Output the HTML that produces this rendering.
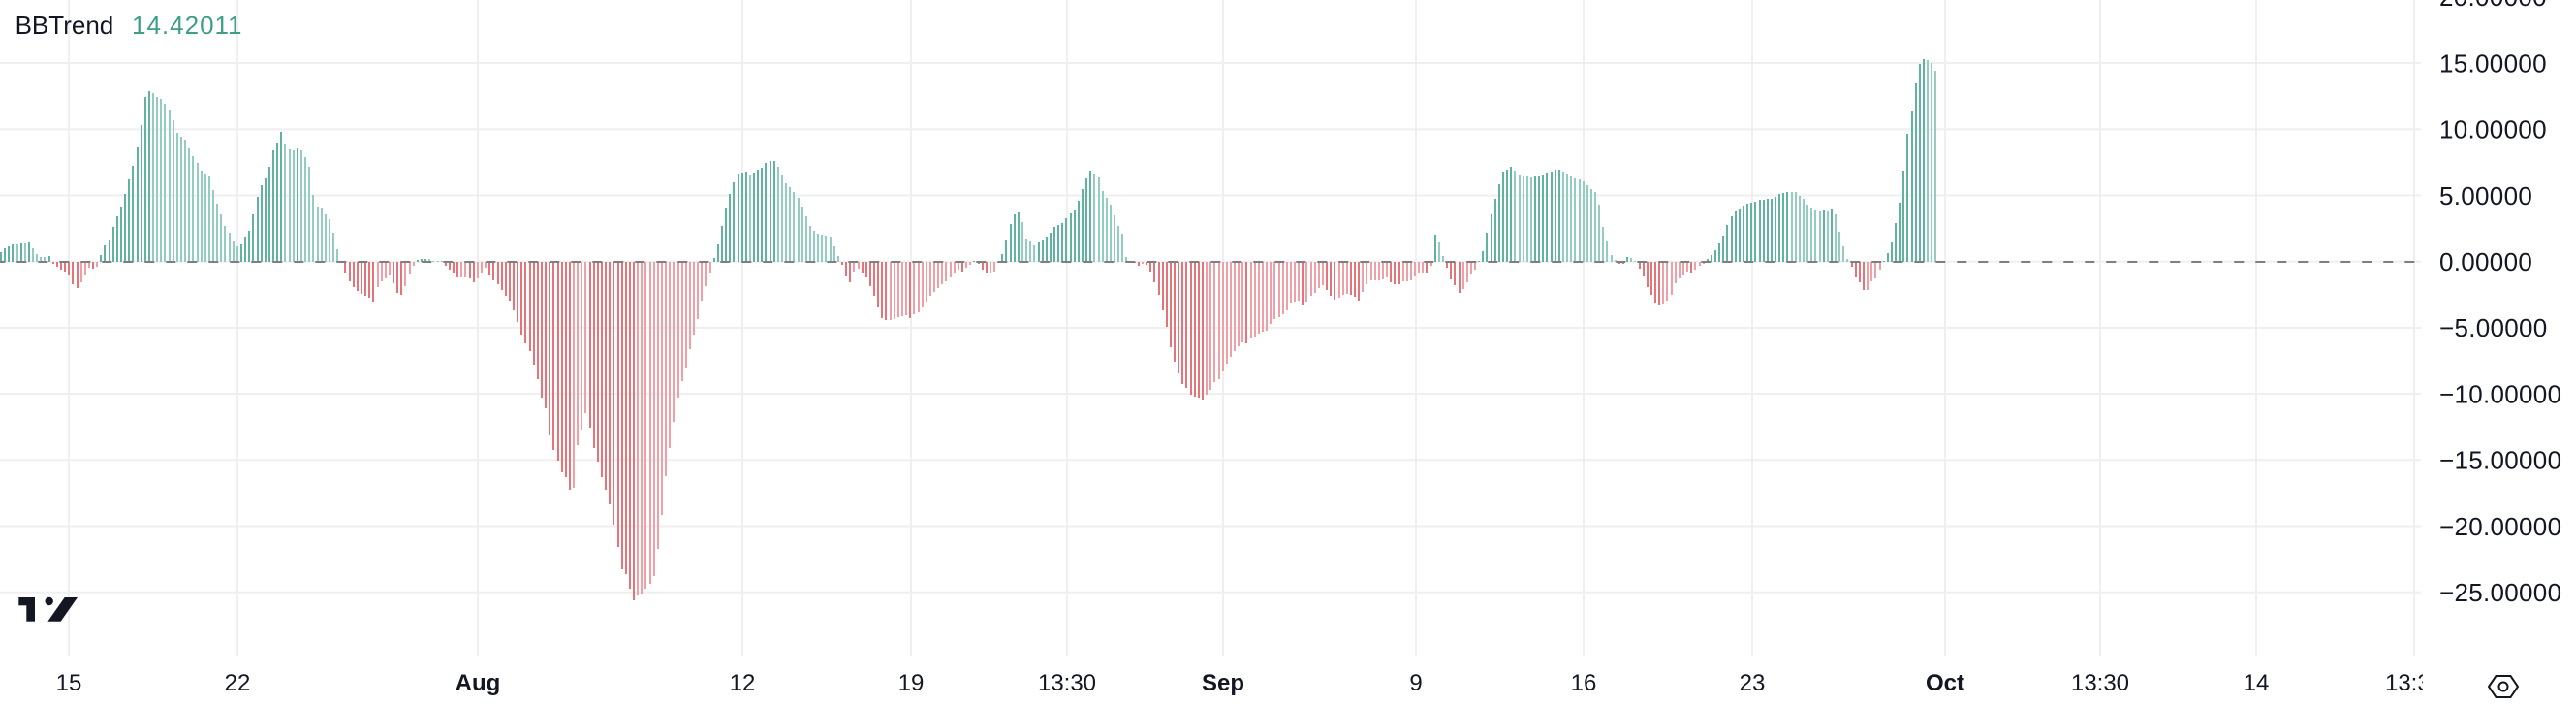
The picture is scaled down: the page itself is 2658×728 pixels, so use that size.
<!DOCTYPE html>
<html>
<head>
<meta charset="utf-8">
<style>
  html,body{margin:0;padding:0;background:#ffffff;}
  body{width:2658px;height:728px;overflow:hidden;position:relative;}
  svg{position:absolute;left:0;top:0;}
  text{font-family:"Liberation Sans",Arial,sans-serif;}
</style>
</head>
<body>
<svg width="2658" height="728" viewBox="0 0 2658 728" xmlns="http://www.w3.org/2000/svg">
  <defs>
    <clipPath id="plotclip"><rect x="0" y="0" width="2500" height="728"/></clipPath>
  </defs>
  <rect x="0" y="0" width="2658" height="728" fill="#ffffff"/>

  <!-- vertical gridlines -->
  <g fill="#efefef">
    <rect x="70" y="0" width="2" height="676"/>
    <rect x="244" y="0" width="2" height="676"/>
    <rect x="492" y="0" width="2" height="676"/>
    <rect x="765" y="0" width="2" height="676"/>
    <rect x="939" y="0" width="2" height="676"/>
    <rect x="1100" y="0" width="2" height="676"/>
    <rect x="1261" y="0" width="2" height="676"/>
    <rect x="1460" y="0" width="2" height="676"/>
    <rect x="1633" y="0" width="2" height="676"/>
    <rect x="1807" y="0" width="2" height="676"/>
    <rect x="2006" y="0" width="2" height="676"/>
    <rect x="2166" y="0" width="2" height="676"/>
    <rect x="2327" y="0" width="2" height="676"/>
    <rect x="2490" y="0" width="2" height="676"/>
  </g>
  <!-- horizontal gridlines -->
  <g fill="#efefef">
    <rect x="0" y="64" width="2498" height="2"/>
    <rect x="0" y="132.3" width="2498" height="2"/>
    <rect x="0" y="200.5" width="2498" height="2"/>
    <rect x="0" y="268.7" width="2498" height="2"/>
    <rect x="0" y="336.9" width="2498" height="2"/>
    <rect x="0" y="405.1" width="2498" height="2"/>
    <rect x="0" y="473.3" width="2498" height="2"/>
    <rect x="0" y="541.5" width="2498" height="2"/>
    <rect x="0" y="609.7" width="2498" height="2"/>
  </g>

  <!-- bars (filled by script) -->
  <g id="bars" shape-rendering="crispEdges"></g>

  <!-- zero dashed line -->
  <line x1="0" y1="270" x2="2492" y2="270" stroke="#7f7f7f" stroke-width="2" stroke-dasharray="10 12" stroke-dashoffset="4.7"/>

  <!-- legend -->
  <text x="15.6" y="35" font-size="26" fill="#131722">BBTrend</text>
  <text x="136" y="35" font-size="26" fill="#3f9e87" letter-spacing="1">14.42011</text>

  <!-- price axis labels -->
  <g font-size="26" fill="#131722" letter-spacing="0.3">
    <text x="2517" y="6.2">20.00000</text>
    <text x="2517" y="74.4">15.00000</text>
    <text x="2517" y="142.6">10.00000</text>
    <text x="2517" y="210.8">5.00000</text>
    <text x="2517" y="279">0.00000</text>
    <text x="2517" y="347.2">−5.00000</text>
    <text x="2517" y="415.4">−10.00000</text>
    <text x="2517" y="483.6">−15.00000</text>
    <text x="2517" y="551.8">−20.00000</text>
    <text x="2517" y="620">−25.00000</text>
  </g>

  <!-- time axis labels -->
  <g font-size="24" fill="#131722" text-anchor="middle" clip-path="url(#plotclip)">
    <text x="71" y="712">15</text>
    <text x="245" y="712">22</text>
    <text x="493" y="712" font-weight="bold">Aug</text>
    <text x="766" y="712">12</text>
    <text x="940" y="712">19</text>
    <text x="1101" y="712">13:30</text>
    <text x="1262" y="712" font-weight="bold">Sep</text>
    <text x="1461" y="712">9</text>
    <text x="1634" y="712">16</text>
    <text x="1808" y="712">23</text>
    <text x="2007" y="712" font-weight="bold">Oct</text>
    <text x="2167" y="712">13:30</text>
    <text x="2328" y="712">14</text>
    <text x="2491" y="712">13:30</text>
  </g>

  <!-- settings icon -->
  <g fill="none" stroke="#131722" stroke-width="2">
    <polygon points="2568,708 2575.5,697 2590.5,697 2598,708 2590.5,719 2575.5,719"/>
    <circle cx="2583" cy="708" r="4.5"/>
  </g>

  <!-- TradingView logo -->
  <g fill="#131722">
    <rect x="19.3" y="616" width="16.7" height="8.3"/>
    <rect x="27.3" y="616" width="8.7" height="24.7"/>
    <circle cx="50.7" cy="620" r="4.2"/>
    <polygon points="66.7,616 80,616 62.7,640.7 49.3,640.7"/>
  </g>
</svg>

<script>
(function(){
var d=[0.71,1.0,1.15,1.3,1.3,1.37,1.37,1.44,1.0,0.56,0.34,0.34,0.42,-0.17,-0.39,-0.61,-0.76,-1.05,-1.71,-2.0,
-1.56,-1.05,-0.46,-0.54,-0.39,0.49,1.22,1.66,2.61,3.42,4.15,5.11,6.21,7.23,8.63,10.31,12.44,12.88,12.73,12.44,
12.29,11.93,11.49,10.68,9.73,9.43,9.21,8.55,7.97,7.45,6.87,6.65,6.5,5.4,4.37,3.57,2.69,2.17,1.52,1.15,
1.3,1.88,2.32,3.57,4.89,5.77,6.28,7.16,8.41,8.99,9.8,8.92,8.48,8.41,8.55,8.41,7.89,7.16,5.03,4.15,
4.08,3.57,3.2,2.17,0.93,-0.05,-0.83,-1.49,-1.93,-2.22,-2.44,-2.59,-2.74,-3.03,-1.93,-1.49,-1.27,-1.05,-1.64,-2.37,
-2.52,-1.86,-0.98,-0.32,0.12,0.2,0.21,0.19,0.05,0.05,0.04,-0.32,-0.61,-0.9,-1.2,-1.19,-1.17,-1.25,-1.55,-1.26,
-0.82,-0.45,-1.04,-1.4,-1.7,-2.14,-2.57,-2.93,-3.67,-4.55,-5.5,-6.16,-6.74,-7.77,-8.87,-10.26,-11.07,-13.12,-14.22,-15.03,
-15.91,-16.28,-17.23,-17.08,-13.86,-12.68,-11.44,-12.54,-14.08,-15.1,-16.28,-17.23,-18.33,-19.87,-21.55,-23.24,-23.61,-24.71,-25.59,-25.22,
-25.15,-24.71,-24.34,-23.75,-21.7,-19.13,-16.2,-14.08,-12.1,-10.26,-9.02,-7.99,-6.6,-5.5,-4.33,-2.93,-1.83,-0.81,0.29,1.32,
2.71,4.11,5.13,6.01,6.67,6.74,6.82,6.6,6.74,6.96,7.11,7.48,7.62,7.63,7.18,6.6,5.94,5.65,5.28,4.84,
4.18,3.45,2.71,2.35,2.13,2.05,1.98,1.91,1.17,0.44,-0.22,-1.1,-1.54,-0.73,-0.51,-0.81,-1.17,-1.83,-2.57,-3.45,
-4.25,-4.4,-4.39,-4.33,-4.18,-4.11,-4.03,-4.25,-3.96,-3.81,-3.45,-3.0,-2.57,-2.27,-1.98,-1.69,-1.47,-1.17,-0.88,-0.59,
-0.73,-0.44,-0.22,0.05,-0.15,-0.59,-0.81,-0.8,-0.73,-0.07,0.56,1.66,2.83,3.57,3.71,2.98,1.74,1.59,1.22,1.44,
1.66,1.88,2.17,2.61,2.76,2.91,3.27,3.64,3.86,4.59,5.47,6.28,6.87,6.65,6.35,5.33,4.81,4.3,3.49,2.69,
2.1,0.34,0.02,-0.02,-0.29,-0.15,-0.22,-0.73,-1.54,-2.49,-3.67,-4.91,-6.45,-7.55,-8.43,-9.24,-9.53,-10.04,-10.19,-10.26,
-10.41,-10.04,-9.68,-9.09,-8.87,-8.28,-7.7,-7.18,-6.74,-6.38,-6.08,-6.16,-5.79,-5.65,-5.43,-5.28,-5.2,-4.69,-4.33,-4.18,
-3.96,-3.67,-3.08,-3.0,-2.93,-3.23,-3.0,-2.57,-2.35,-1.98,-1.76,-2.13,-2.57,-2.86,-2.71,-2.49,-2.42,-2.49,-2.64,-2.93,
-2.27,-1.69,-1.39,-1.39,-1.39,-1.32,-1.17,-1.54,-1.69,-1.7,-1.47,-1.47,-1.39,-1.1,-0.88,-0.81,-0.88,-0.29,2.03,1.44,
0.44,-0.44,-1.32,-1.76,-2.35,-2.05,-1.54,-0.95,-0.59,0.07,0.81,2.2,3.59,4.77,5.87,6.82,6.96,7.18,6.89,6.6,
6.45,6.44,6.38,6.52,6.53,6.6,6.74,6.82,6.96,6.97,6.82,6.67,6.45,6.3,6.23,6.09,5.79,5.5,5.28,4.33,
2.64,1.54,0.51,0.15,-0.15,-0.16,0.37,0.29,0.07,-0.51,-1.1,-1.91,-2.49,-3.08,-3.23,-3.15,-2.93,-2.49,-1.61,-1.25,
-1.03,-0.73,-0.81,-0.59,-0.29,-0.15,0.22,0.51,0.88,1.39,1.98,2.79,3.45,3.81,4.03,4.25,4.4,4.47,4.55,4.69,
4.7,4.77,4.78,4.91,5.13,5.2,5.28,5.27,5.26,4.99,4.77,4.33,4.11,3.89,3.81,3.89,3.81,3.96,3.59,2.27,
1.17,0.22,-0.37,-1.17,-1.54,-2.13,-2.12,-1.47,-1.25,-0.59,0.07,0.66,1.47,2.93,4.47,6.89,9.68,11.44,13.49,14.96,
15.32,15.25,15.03,14.42];
var Z=270, S=13.64, prev=0, out='';
for(var i=0;i<d.length;i++){
  var v=d[i];
  var x=Math.round(4.1333*i);
  var h=Math.max(1,Math.round(Math.abs(v)*S));
  var y=v>=0?Z-h:Z;
  var c;
  if(v>=0){c=(v>prev)?'#62b2a0':'#92cdbf';}
  else{c=(v<prev)?'#e5737a':'#efa0a6';}
  out+='<rect x="'+x+'" y="'+y+'" width="2" height="'+h+'" fill="'+c+'"/>';
  prev=v;
}
document.getElementById('bars').innerHTML=out;
})();
</script>
</body>
</html>
